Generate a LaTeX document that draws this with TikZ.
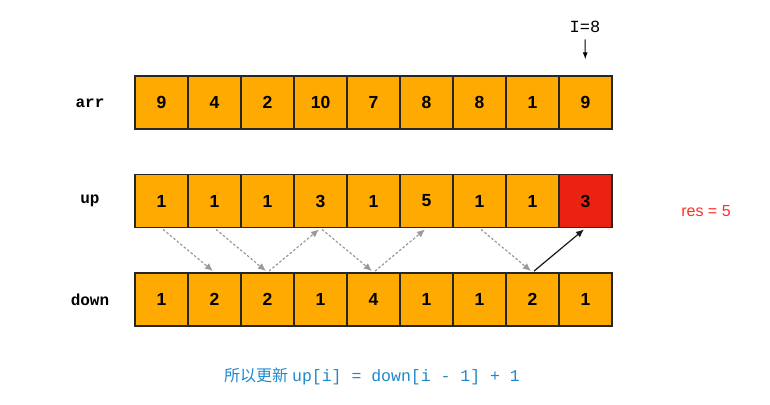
\documentclass[tikz,border=0pt]{standalone}
\usepackage{fontspec}
\setmainfont{Liberation Sans}
\newfontfamily\monofont{Liberation Mono}
\newfontfamily\cjk{Noto Sans CJK SC}
\usetikzlibrary{arrows.meta}
\definecolor{cellorange}{RGB}{255,170,0}
\definecolor{cellred}{RGB}{236,34,16}
\definecolor{resred}{RGB}{250,50,40}
\definecolor{noteblue}{RGB}{30,136,204}
\tikzset{
	cell/.style={draw=black!85, line width=1.3pt, fill=cellorange, minimum size=53pt, inner sep=0pt, font=\bfseries\fontsize{17.5}{17.5}\selectfont},
	rowname/.style={font=\monofont\bfseries\fontsize{16}{16}\selectfont},
	greyarrow/.style={draw=black!40, line width=1.2pt, dash pattern=on 2.5pt off 2pt, -{Latex[length=8pt,width=7pt]}, shorten <=2pt, shorten >=2pt},
	blackarrow/.style={draw=black!90, line width=1.2pt, -{Latex[length=8pt,width=7pt]}, shorten <=2pt, shorten >=2pt}
}

\begin{document}
\begin{tikzpicture}[x=1pt, y=-1pt]
		%%%%% START %%%%%
		\useasboundingbox (0, 0) rectangle (770, 404);
		
		\node[rowname] (arrname) at (90, 103) {arr};
		\node[rowname] (upname) at (90, 201) {up};
		\node[rowname] (downname) at (90, 300) {down};
		
		\foreach \v [count=\i from 0] in {9,4,2,10,7,8,8,1,9}
			\node[cell] (a\i) at (161.5+53*\i, 102.5) {\v};
		\foreach \v [count=\i from 0] in {1,1,1,3,1,5,1,1,3}
			\node[cell] (u\i) at (161.5+53*\i, 201) {\v};
		\foreach \v [count=\i from 0] in {1,2,2,1,4,1,1,2,1}
			\node[cell] (d\i) at (161.5+53*\i, 299.5) {\v};
		\node[cell, fill=cellred] at (u8) {3};
		
		\node[font=\monofont\fontsize{17}{17}\selectfont] (iname) at (585, 27) {I=8};
		\draw[-{Latex[length=7pt,width=5pt]}, line width=1pt, shorten <=3pt, shorten >=16pt] (iname.south) -- (a8.north);
		
		\draw[greyarrow] (u0.south) -- (d1.north);
		\draw[greyarrow] (u1.south) -- (d2.north);
		\draw[greyarrow] (d2.north) -- (u3.south);
		\draw[greyarrow] (u3.south) -- (d4.north);
		\draw[greyarrow] (d4.north) -- (u5.south);
		\draw[greyarrow] (u6.south) -- (d7.north);
		\draw[blackarrow] (d7.north) -- (u8.south);
		
		\node[text=resred, font=\fontsize{16}{16}\selectfont] (res) at (706, 211) {res = 5};
		
		\node[text=noteblue] (note) at (372, 376) {{\cjk\fontsize{16}{16}\selectfont 所以更新}\hspace{4pt}{\monofont\fontsize{16.5}{16.5}\selectfont up[i] = down[i - 1] + 1}};
		
		%%%%% END %%%%%
	\end{tikzpicture}
\end{document}
